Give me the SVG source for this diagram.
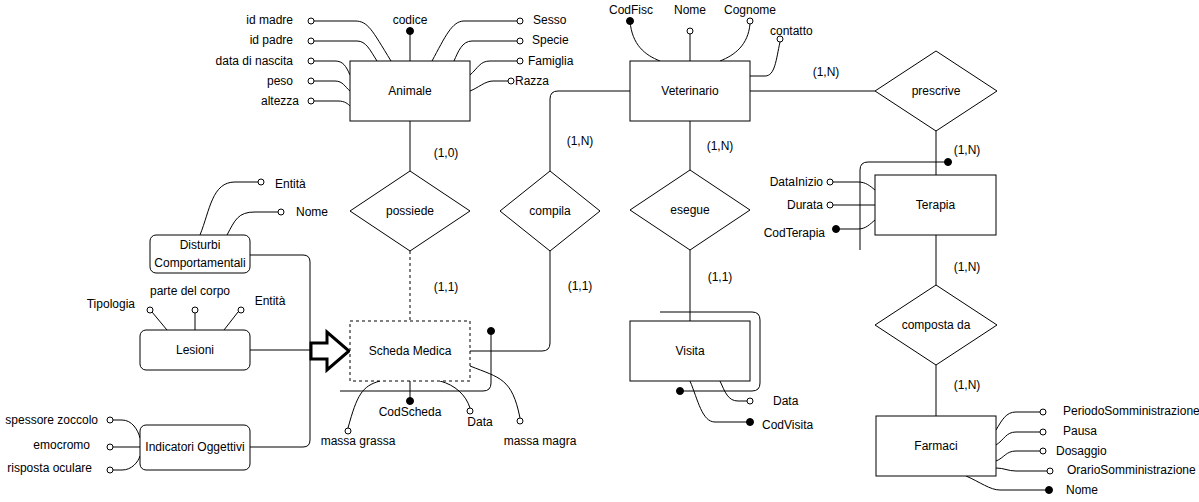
<svg xmlns="http://www.w3.org/2000/svg" width="1199" height="502" viewBox="0 0 1199 502">
<style>
text{font-family:"Liberation Sans",Arial,sans-serif;font-size:12px;fill:#000;dominant-baseline:central}
.m{text-anchor:middle}.e{text-anchor:end}
.box{fill:#fff;stroke:#000;stroke-width:1}
.dash{stroke-dasharray:3,3}
.c path,.c line{fill:none;stroke:#000;stroke-width:1}
.o{fill:#fff;stroke:#000;stroke-width:1}
.f{fill:#000;stroke:#000}
</style>
<rect width="1199" height="502" fill="#fff"/>
<g id="connectors" class="c">
<line x1="410" y1="121" x2="410" y2="171"/>
<line x1="410" y1="251" x2="410" y2="321" class="dash" stroke-dasharray="3,3"/>
<path d="M550,171 L550,99 Q550,91 558,91 L630,91"/>
<path d="M550,251 L550,343 Q550,351 542,351 L470,351"/>
<line x1="690" y1="121" x2="690" y2="170"/>
<line x1="690" y1="250" x2="690" y2="321"/>
<line x1="750" y1="91" x2="875" y2="91"/>
<line x1="936" y1="131" x2="936" y2="175"/>
<line x1="936" y1="235" x2="936" y2="285"/>
<line x1="936" y1="365" x2="936" y2="416"/>
<path d="M250,255 L303,255 Q310,255 310,262 L310,440 Q310,447 303,447 L250,447"/>
<line x1="250" y1="350" x2="311" y2="350"/>
<!-- Animale attributes -->
<path d="M314,21 L355,21 C368,21 372,30 391,61"/>
<path d="M314,41 L357,41 C366,41 370,50 377,61"/>
<path d="M314,61 L335,61 C343,61 346,66 350,75"/>
<path d="M314,81 L335,81 C343,81 345,87 350,91"/>
<path d="M314,101 L338,101 C345,101 348,104 350,106"/>
<line x1="410" y1="61" x2="410" y2="31"/>
<path d="M517,21 L464,21 C452,21 445,37 432,61"/>
<path d="M517,41 L472,41 C462,41 458,52 454,61"/>
<path d="M517,61 L490,61 C480,61 478,68 470,75"/>
<path d="M508,81 L493,81 C485,81 478,88 470,91"/>
<!-- Veterinario attributes -->
<path d="M630,21 C632,45 645,55 660,61"/>
<line x1="690" y1="34" x2="690" y2="61"/>
<path d="M750,24 C748,45 735,55 720,61"/>
<path d="M750,76 L765,76 C775,76 776,60 780,42"/>
<!-- Terapia -->
<path d="M860,250 L860,170 Q860,162 868,162 L948,162"/>
<path d="M833,182 L858,182 C866,182 870,186 875,190"/>
<line x1="833" y1="205" x2="875" y2="205"/>
<path d="M836,229 L858,229 C866,229 870,224 875,220"/>
<!-- Farmaci -->
<path d="M1040,412 L1016,412 C1006,412 1002,420 996,430"/>
<path d="M1040,432 L1016,432 C1006,432 1004,440 996,445"/>
<path d="M1040,451 L1016,451 C1006,451 1004,458 996,461"/>
<path d="M1047,471 L1016,471 C1008,471 1004,468 996,468"/>
<path d="M966,476 C980,482 990,490 1000,490 L1049,490"/>
<!-- Visita -->
<path d="M660,312 L752,312 Q760,312 760,320 L760,383 Q760,391 752,391 L680,391"/>
<path d="M720,381 C725,392 728,401 738,401 L747,401"/>
<path d="M690,381 C698,400 702,422 715,422 L750,422"/>
<!-- Scheda Medica -->
<path d="M340,391 L483,391 Q491,391 491,383 L491,331"/>
<line x1="410" y1="381" x2="410" y2="401"/>
<path d="M440,381 C455,385 466,395 470,408"/>
<path d="M380,381 C362,386 357,395 348,428"/>
<path d="M470,366 C500,378 512,378 520,418"/>
<!-- Disturbi -->
<path d="M200,235 C210,210 212,182 235,182 L258,182"/>
<path d="M227,235 C235,220 238,212 255,212 L278,212"/>
<!-- Lesioni -->
<line x1="152" y1="312" x2="167" y2="330"/>
<line x1="195" y1="313" x2="195" y2="330"/>
<line x1="238" y1="312" x2="224" y2="330"/>
<!-- Indicatori -->
<path d="M113,420 L122,420 C132,420 138,430 140,438"/>
<line x1="113" y1="447" x2="140" y2="447"/>
<path d="M113,470 L122,470 C132,470 138,462 140,456"/>
</g>
<g id="markers">
<circle class="o" cx="311" cy="21" r="3"/><circle class="o" cx="311" cy="41" r="3"/><circle class="o" cx="311" cy="61" r="3"/><circle class="o" cx="311" cy="81" r="3"/><circle class="o" cx="311" cy="101" r="3"/>
<circle class="f" cx="410" cy="31" r="3.5"/>
<circle class="o" cx="520" cy="21" r="3"/><circle class="o" cx="520" cy="41" r="3"/><circle class="o" cx="520" cy="61" r="3"/><circle class="o" cx="511" cy="81" r="3"/>
<circle class="f" cx="630" cy="21" r="3.5"/><circle class="o" cx="690" cy="31" r="3"/><circle class="o" cx="750" cy="21" r="3"/><circle class="o" cx="780" cy="39" r="3"/>
<circle class="f" cx="948" cy="162" r="3.5"/>
<circle class="o" cx="830" cy="182" r="3"/><circle class="o" cx="830" cy="205" r="3"/><circle class="f" cx="836" cy="229" r="3.5"/>
<circle class="o" cx="1043" cy="412" r="3"/><circle class="o" cx="1043" cy="432" r="3"/><circle class="o" cx="1043" cy="451" r="3"/><circle class="o" cx="1050" cy="471" r="3"/><circle class="f" cx="1049" cy="490" r="3.5"/>
<circle class="f" cx="680" cy="391" r="3.5"/><circle class="o" cx="750" cy="401" r="3"/><circle class="f" cx="750" cy="422" r="3.5"/>
<circle class="f" cx="491" cy="331" r="3.5"/><circle class="f" cx="410" cy="401" r="3.5"/><circle class="o" cx="470" cy="411" r="3"/><circle class="o" cx="348" cy="431" r="3"/><circle class="o" cx="520" cy="421" r="3"/>
<circle class="o" cx="261" cy="182" r="3"/><circle class="o" cx="281" cy="212" r="3"/>
<circle class="o" cx="150" cy="310" r="3"/><circle class="o" cx="195" cy="310" r="3"/><circle class="o" cx="241" cy="310" r="3"/>
<circle class="o" cx="110" cy="420" r="3"/><circle class="o" cx="110" cy="447" r="3"/><circle class="o" cx="110" cy="470" r="3"/>
</g>
<g id="arrow">
<polygon points="311,343 327,343 327,332 349,351 327,370 327,359 311,359" fill="#fff" stroke="#000" stroke-width="3" stroke-linejoin="miter"/>
</g>
<g id="animale"><rect class="box" x="350" y="61" width="120" height="60"/><text class="m" x="410" y="91">Animale</text></g>
<g id="veterinario"><rect class="box" x="630" y="61" width="120" height="60"/><text class="m" x="690" y="91">Veterinario</text></g>
<g id="possiede"><polygon class="box" points="410,171 470,211 410,251 350,211"/><text class="m" x="410" y="211">possiede</text></g>
<g id="compila"><polygon class="box" points="550,171 600,211 550,251 500,211"/><text class="m" x="550" y="211">compila</text></g>
<g id="esegue"><polygon class="box" points="690,170 750,210 690,250 630,210"/><text class="m" x="690" y="210">esegue</text></g>
<g id="prescrive"><polygon class="box" points="936,51 997,91 936,131 875,91"/><text class="m" x="936" y="91">prescrive</text></g>
<g id="terapia"><rect class="box" x="875" y="175" width="121" height="60"/><text class="m" x="935.5" y="205">Terapia</text></g>
<g id="composta"><polygon class="box" points="936,285 997,325 936,365 875,325"/><text class="m" x="936" y="325">composta da</text></g>
<g id="farmaci"><rect class="box" x="876" y="416" width="120" height="60"/><text class="m" x="936" y="446">Farmaci</text></g>
<g id="visita"><rect class="box" x="630" y="321" width="120" height="60"/><text class="m" x="690" y="351">Visita</text></g>
<g id="scheda"><rect class="box" x="350" y="321" width="120" height="60" stroke-dasharray="3,3"/><text class="m" x="410" y="351">Scheda Medica</text></g>
<g id="disturbi"><rect class="box" x="150" y="235" width="100" height="38" rx="6"/><text class="m" x="200" y="245">Disturbi</text><text class="m" x="200" y="263">Comportamentali</text></g>
<g id="lesioni"><rect class="box" x="140" y="330" width="110" height="40" rx="6"/><text class="m" x="195" y="350">Lesioni</text></g>
<g id="indicatori"><rect class="box" x="140" y="425" width="110" height="45" rx="6"/><text class="m" x="195" y="447">Indicatori Oggettivi</text></g>
<g id="labels">
<text class="e" x="293" y="20">id madre</text>
<text class="e" x="293" y="40">id padre</text>
<text class="e" x="293" y="61">data di nascita</text>
<text class="e" x="293" y="81">peso</text>
<text class="e" x="299" y="101">altezza</text>
<text class="m" x="410" y="20">codice</text>
<text x="533" y="20">Sesso</text>
<text x="532" y="40">Specie</text>
<text x="528" y="61">Famiglia</text>
<text x="515" y="81">Razza</text>
<text class="m" x="631" y="10">CodFisc</text>
<text class="m" x="690" y="10">Nome</text>
<text class="m" x="750" y="10">Cognome</text>
<text x="770" y="31">contatto</text>
<text class="m" x="826" y="72">(1,N)</text>
<text class="m" x="446" y="153">(1,0)</text>
<text class="m" x="580" y="141">(1,N)</text>
<text class="m" x="720" y="146">(1,N)</text>
<text class="m" x="446" y="287">(1,1)</text>
<text class="m" x="580" y="286">(1,1)</text>
<text class="m" x="720" y="277">(1,1)</text>
<text class="m" x="967" y="150">(1,N)</text>
<text class="m" x="967" y="267">(1,N)</text>
<text class="m" x="967" y="385">(1,N)</text>
<text class="e" x="823" y="182">DataInizio</text>
<text class="e" x="823" y="205">Durata</text>
<text class="e" x="825" y="233">CodTerapia</text>
<text x="1063" y="411">PeriodoSomministrazione</text>
<text x="1063" y="431">Pausa</text>
<text x="1056" y="451">Dosaggio</text>
<text x="1067" y="470">OrarioSomministrazione</text>
<text x="1066" y="490">Nome</text>
<text x="773" y="401">Data</text>
<text x="762" y="425">CodVisita</text>
<text class="m" x="410" y="412">CodScheda</text>
<text class="m" x="480" y="422">Data</text>
<text class="m" x="358" y="441">massa grassa</text>
<text class="m" x="540" y="441">massa magra</text>
<text x="275" y="184">Entità</text>
<text x="296" y="212">Nome</text>
<text class="e" x="135" y="304">Tipologia</text>
<text class="m" x="190" y="291">parte del corpo</text>
<text class="m" x="270" y="301">Entità</text>
<text class="e" x="98" y="420">spessore zoccolo</text>
<text class="e" x="90" y="445">emocromo</text>
<text class="e" x="92" y="468">risposta oculare</text>
</g>
</svg>
